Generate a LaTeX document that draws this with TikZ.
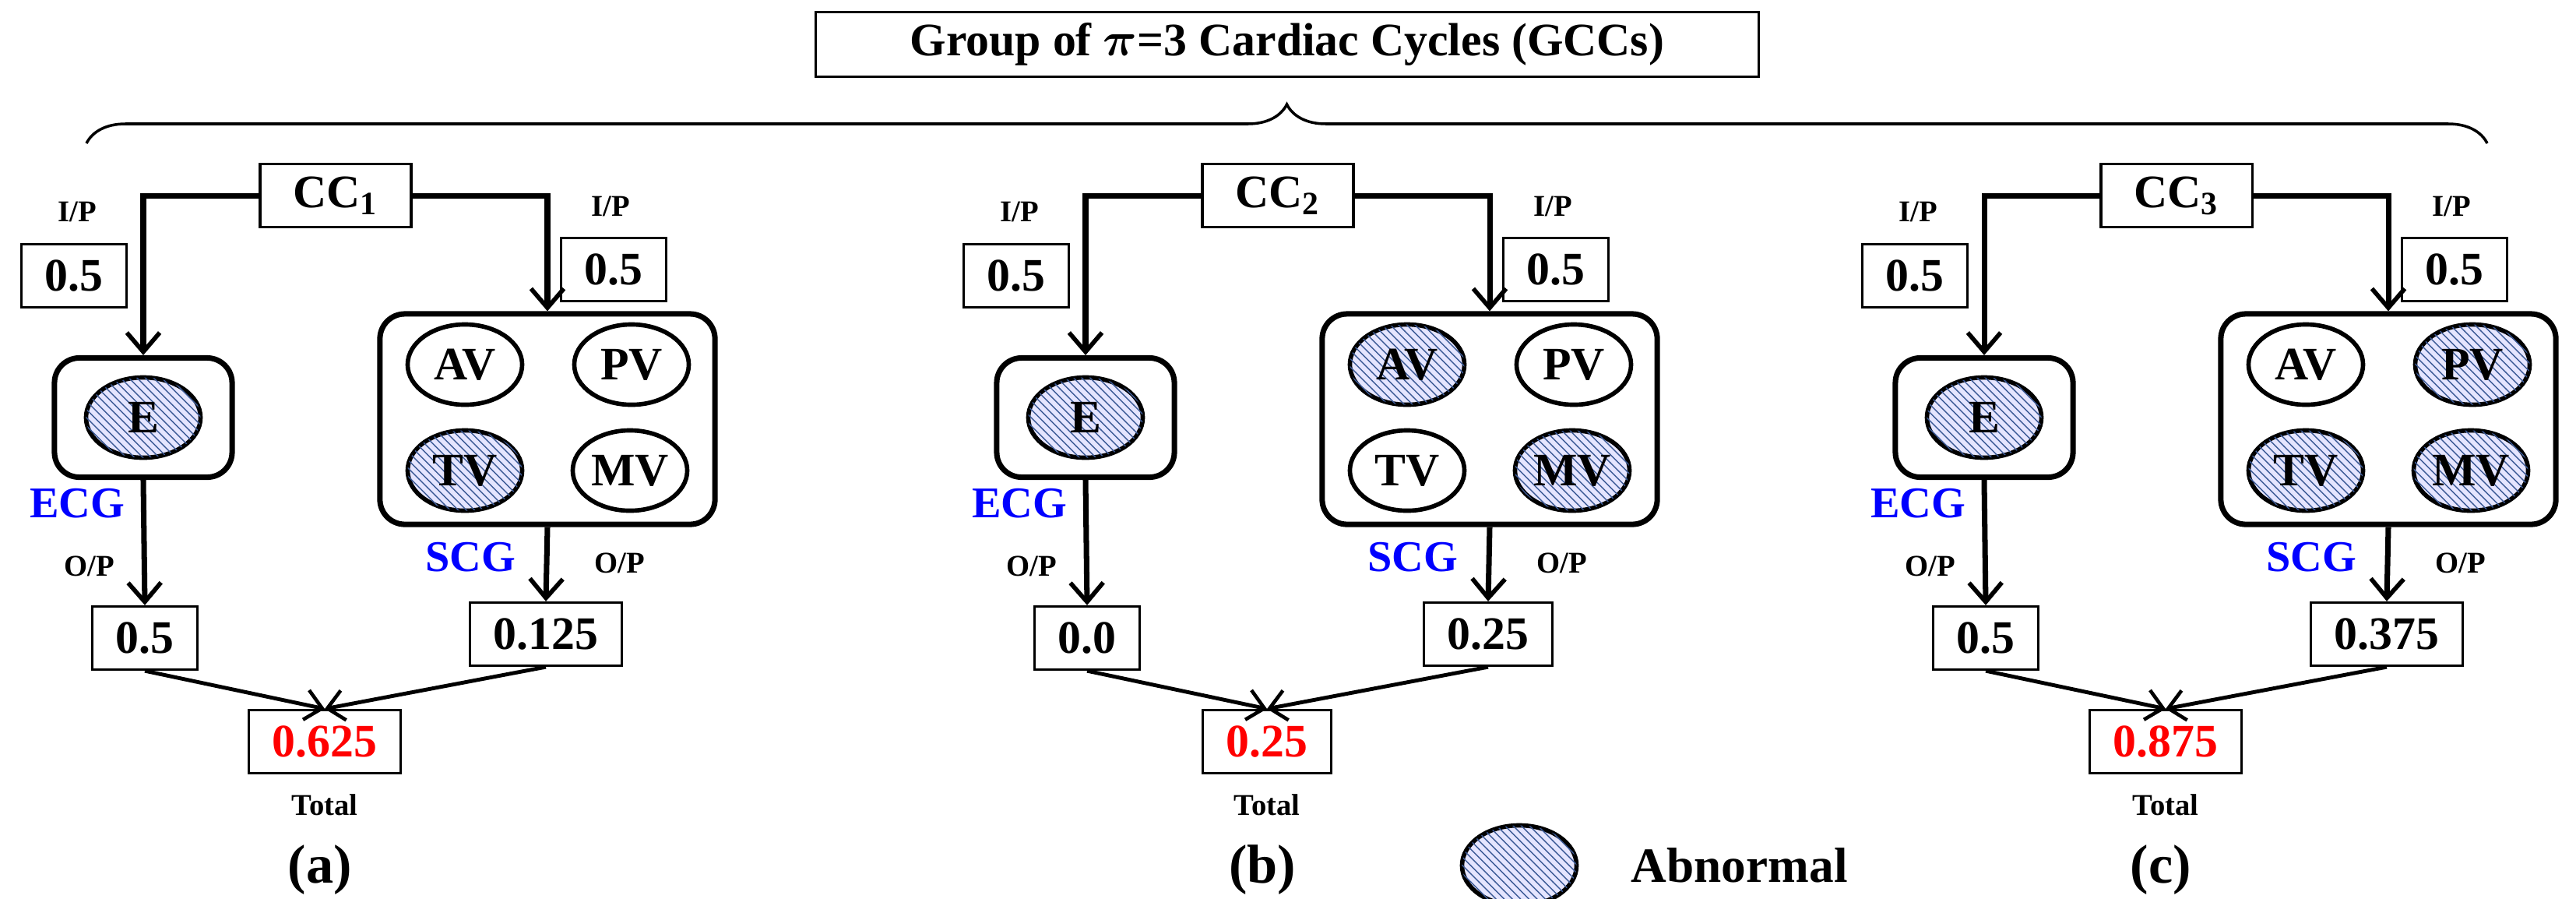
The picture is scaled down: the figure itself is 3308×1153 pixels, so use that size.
\documentclass[tikz,border=0pt]{standalone}
\usepackage{amsmath}
\usepackage{bm}
\usepackage{fontspec}
\setmainfont{Liberation Serif}
\usetikzlibrary{arrows.meta,positioning,shapes.geometric,patterns,decorations.pathreplacing}
\definecolor{hatch}{RGB}{60,90,150}

\tikzset{
  num/.style={draw, line width=0.9pt, font=\fontsize{17}{18}\selectfont\bfseries, inner xsep=0.3cm, minimum height=0.81cm},
  grp/.style={draw, line width=2pt, rounded corners=0.32cm},
  valve/.style={ellipse, draw, line width=1.6pt, minimum width=1.47cm, minimum height=1.03cm, inner sep=0pt, font=\fontsize{17}{18}\selectfont\bfseries},
  norm/.style={valve},
  abn/.style={valve, fill=blue!10, postaction={pattern=north west lines, pattern color=hatch}},
  lbl/.style={font=\fontsize{11}{12}\selectfont\bfseries},
  sig/.style={blue, font=\fontsize{16}{17}\selectfont\bfseries},
  flow/.style={line width=2pt, -{Straight Barb[length=7pt,width=12pt,line width=1.6pt]}},
  sum/.style={line width=1.4pt, -{Straight Barb[length=6pt,width=11pt,line width=1.3pt]}}
}

\begin{document}
\begin{tikzpicture}[x=0.01cm, y=-0.01cm]
  \useasboundingbox (0,0) rectangle (3308,1153);
  % title and brace
  \node[num, minimum width=12.11cm, minimum height=0.83cm] (title) at (1653,57) {Group of $\bm{\pi}$=3 Cardiac Cycles (GCCs)};
  \coordinate (bl) at (111,184);
  \coordinate (br) at (3194,184);
  \draw[line width=1pt, decoration={brace, amplitude=0.5cm}, decorate] (bl) -- (br);
  % panels
  \foreach \s/\n/\eo/\so/\tot/\av/\pv/\tv/\mv/\lab in {%
      0/1/0.5/0.125/0.625/norm/norm/abn/norm/a,
      1210/2/0.0/0.25/0.25/abn/norm/norm/abn/b,
      2364/3/0.5/0.375/0.875/norm/abn/abn/abn/c}{
    \begin{scope}[xshift=\s*0.01cm]
      \node[num, minimum width=1.94cm] (cc\n) at (431,251) {CC$_{\mathbf{\n}}$};
      \node[grp, minimum width=2.28cm, minimum height=1.53cm] (eb\n) at (184,536) {};
      \node[abn] (e\n) at (eb\n) {E};
      \node[grp, minimum width=4.3cm, minimum height=2.7cm] (sb\n) at (703,538) {};
      \node[\av] (av\n) at (597,468) {AV};
      \node[\pv] (pv\n) at (811,468) {PV};
      \node[\tv] (tv\n) at (597,604) {TV};
      \node[\mv] (mv\n) at (809,604) {MV};
      \node[lbl] (ipl\n) at (99,272) {I/P};
      \node[lbl] (ipr\n) at (784,265) {I/P};
      \node[num] (inl\n) at (95,354) {0.5};
      \node[num] (inr\n) at (788,346) {0.5};
      \node[sig] (ecg\n) at (99,646) {ECG};
      \node[sig] (scg\n) at (604,715) {SCG};
      \node[lbl] (opl\n) at (115,727) {O/P};
      \node[lbl] (opr\n) at (796,723) {O/P};
      \node[num] (eo\n) at (186,819) {\eo};
      \node[num] (so\n) at (701,814) {\so};
      \node[num, text=red] (tot\n) at (417,952) {\tot};
      \node[lbl] (tl\n) at (417,1033) {Total};
      \node[font=\fontsize{20}{22}\selectfont\bfseries] (cap\n) at (411,1117) {(\lab)};
      \draw[flow] (cc\n.west) -| (eb\n.north);
      \draw[flow] (cc\n.east) -| (sb\n.north);
      \draw[flow] (eb\n.south) -- (eo\n.north);
      \draw[flow] (sb\n.south) -- (so\n.north);
      \draw[sum] (eo\n.south) -- (tot\n.north);
      \draw[sum] (so\n.south) -- (tot\n.north);
    \end{scope}
  }
  % legend
  \node[abn] (key) at (1951,1111) {};
  \node[font=\fontsize{18}{20}\selectfont\bfseries, right=0.55cm of key] (keytxt) {Abnormal};
\end{tikzpicture}
\end{document}
